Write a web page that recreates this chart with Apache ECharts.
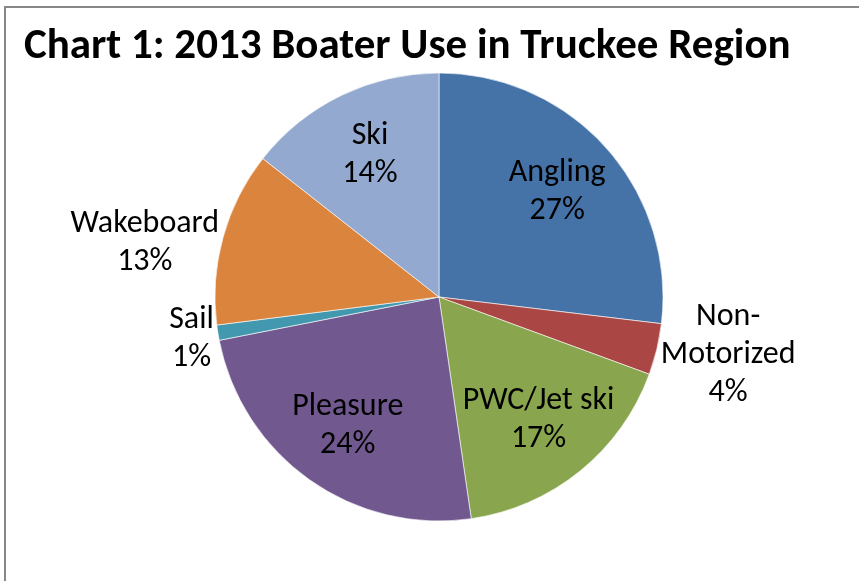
<!DOCTYPE html>
<html>
<head>
<meta charset="utf-8">
<title>Chart 1: 2013 Boater Use in Truckee Region</title>
<script src="https://cdn.jsdelivr.net/npm/echarts@6/dist/echarts.min.js"></script>
<style>
    html, body { margin: 0; padding: 0; background: #fff; }
    #main { width: 859px; height: 581px; }
</style>
</head>
<body>
<div id="main"></div>
<script>
    // slices clockwise from 12 o'clock
    var categories = ['Angling', 'Non-Motorized', 'PWC/Jet ski', 'Pleasure', 'Sail', 'Wakeboard', 'Ski'];
    var shares = [26.9, 3.7, 17.1, 24.2, 1.1, 12.6, 14.4];
    var colors = ['#4572A7', '#AA4643', '#89A54E', '#71588F', '#4198AF', '#DB843D', '#93A9CF'];
    // which labels sit outside the pie
    var outsideLabels = ['Non-Motorized', 'Sail', 'Wakeboard'];

    var fontFamily = 'Carlito, Calibri, "Liberation Sans", Arial, sans-serif';

    function labelText(p) {
        var name = p.name.replace('Non-', 'Non-\n');
        var lines = name.split('\n').concat([Math.round(p.percent) + '%']);
        return lines.map(function (s) { return '{c|' + s + '}'; }).join('\n');
    }

    var labelStyle = {
        formatter: labelText,
        color: '#000',
        fontFamily: fontFamily,
        fontSize: 32,
        lineHeight: 38,
        rich: {
            c: { align: 'center', color: '#000', fontFamily: fontFamily, fontSize: 32, lineHeight: 38 }
        }
    };

    var mainData = categories.map(function (name, i) {
        var outside = outsideLabels.indexOf(name) >= 0;
        return {
            name: name,
            value: shares[i],
            itemStyle: { color: colors[i] },
            label: { show: outside }
        };
    });

    var labelData = categories.map(function (name, i) {
        var outside = outsideLabels.indexOf(name) >= 0;
        return {
            name: name,
            value: shares[i],
            label: { show: !outside }
        };
    });

    var myChart = echarts.init(document.getElementById('main'), null, { renderer: 'canvas' });

    myChart.setOption({
        animation: false,
        backgroundColor: '#fff',
        title: {
            text: 'Chart 1: 2013 Boater Use in Truckee Region',
            left: 24,
            top: 26,
            padding: 0,
            textStyle: {
                fontFamily: fontFamily,
                fontWeight: 'bold',
                fontSize: 43,
                color: '#000'
            }
        },
        graphic: [{
            type: 'rect',
            silent: true,
            shape: { x: 5, y: 7, width: 900, height: 700 },
            style: { fill: null, stroke: '#878787', lineWidth: 2 }
        }],
        series: [
            {
                type: 'pie',
                center: [439, 297],
                radius: 224,
                startAngle: 90,
                avoidLabelOverlap: false,
                emphasis: { disabled: true },
                itemStyle: { borderColor: '#fff', borderWidth: 0.6 },
                label: Object.assign({ position: 'outside', distanceToLabelLine: 4, padding: [12, 0, 0, 0] }, labelStyle),
                labelLine: { show: false, length: 0, length2: 0 },
                data: mainData
            },
            {
                // transparent copy, only used to place the inside labels further out
                type: 'pie',
                silent: true,
                center: [439, 297],
                radius: [86, 224],
                startAngle: 90,
                avoidLabelOverlap: false,
                itemStyle: { color: 'rgba(0,0,0,0)' },
                label: Object.assign({ position: 'inside' }, labelStyle),
                labelLine: { show: false },
                data: labelData
            }
        ]
    });
</script>
</body>
</html>
